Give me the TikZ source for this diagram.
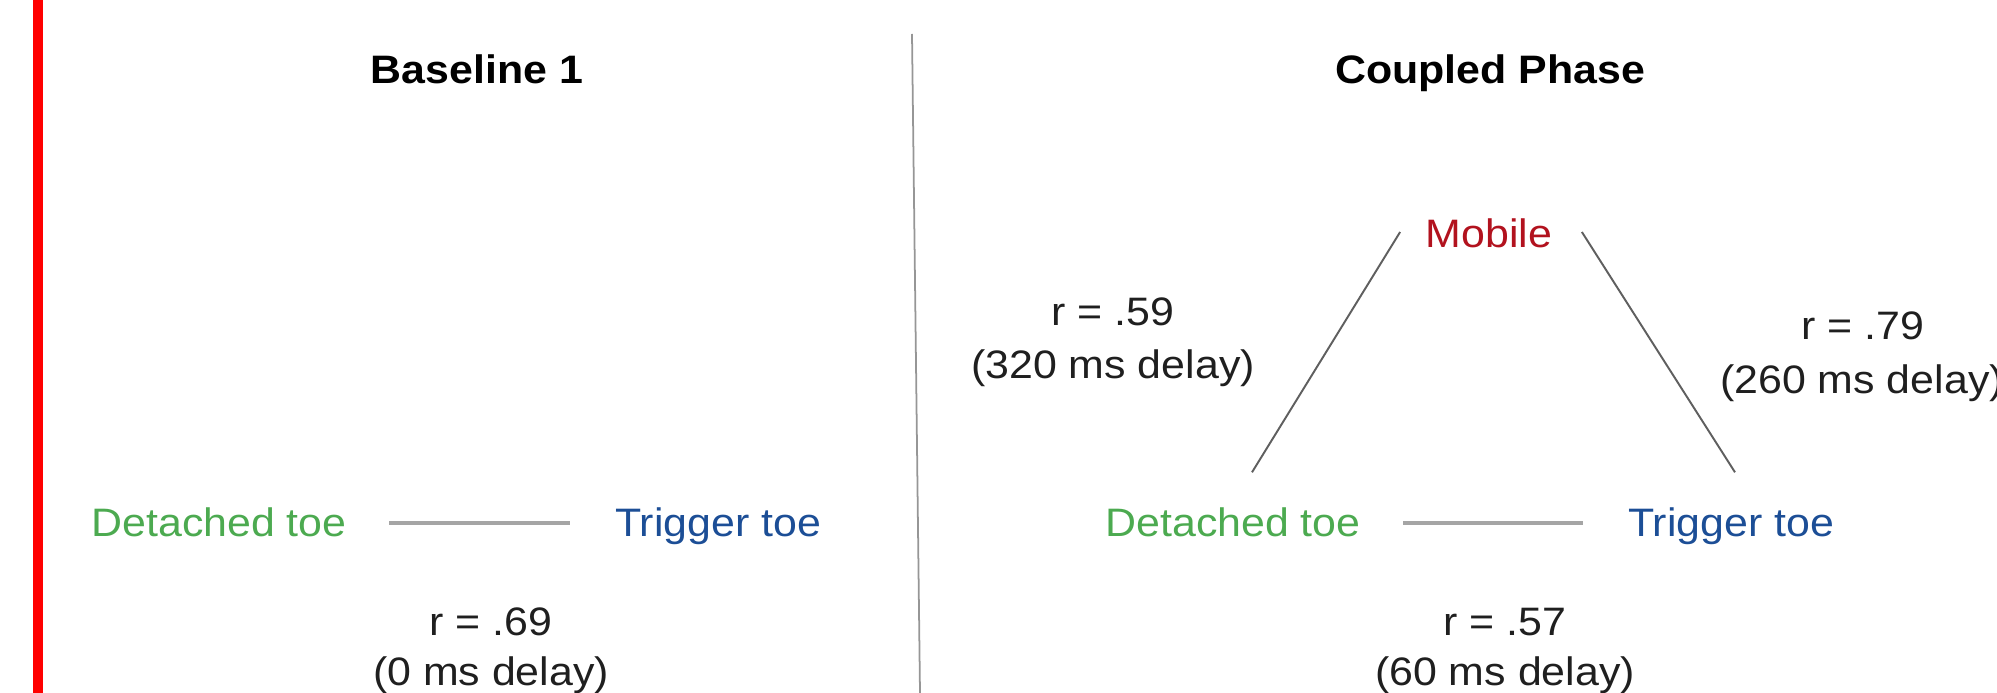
\documentclass[tikz,border=0pt]{standalone}
\usepackage{fontspec}
\setmainfont{Liberation Sans}[FakeStretch=1.08]
\usetikzlibrary{calc}

\definecolor{toegreen}{RGB}{76,170,80}
\definecolor{toeblue}{RGB}{28,78,150}
\definecolor{mobred}{RGB}{178,18,30}
\definecolor{linkgray}{RGB}{165,165,165}
\definecolor{diaggray}{RGB}{95,95,95}
\definecolor{rulegray}{RGB}{150,150,150}
\definecolor{sidered}{RGB}{255,0,0}

\tikzset{
  lbl/.style={inner sep=0pt, anchor=base, text height=0.32cm, text depth=0.06cm,
              font=\fontsize{11.3}{13.5}\selectfont, text=black!88},
  heading/.style={lbl, font=\fontsize{11.3}{13.5}\selectfont\bfseries, text=black},
  greentoe/.style={lbl, text=toegreen},
  bluetoe/.style={lbl, text=toeblue},
  mobile/.style={lbl, text=mobred},
  link/.style={draw=linkgray, line width=1.1pt, shorten <=0.42cm, shorten >=0.44cm},
  diag/.style={draw=diaggray, line width=0.55pt},
}

\begin{document}
\begin{tikzpicture}[x=1cm,y=1cm]
  \useasboundingbox (0,0) rectangle (19.97,-6.93);
  \clip (0,0) rectangle (19.97,-6.93);

  % red bar on the left edge
  \fill[sidered] (0.33,0) rectangle (0.43,-6.93);

  % divider between the two panels
  \draw[rulegray, line width=0.5pt] (9.12,-0.34) -- (9.20,-6.93);

  % panel headings
  \node[heading] (base1) at (4.77,-0.84) {Baseline 1};
  \node[heading] (coupled) at (14.90,-0.84) {Coupled Phase};

  % left panel: baseline
  \node[greentoe] (dtL) at (2.19,-5.36) {Detached toe};
  \node[bluetoe]  (ttL) at (7.18,-5.36) {Trigger toe};
  \draw[link] (dtL.east) -- (ttL.west);
  \node[lbl] (r69) at (4.91,-6.35) {r = .69};
  \node[lbl] (d0)  at (4.91,-6.85) {(0 ms delay)};

  % right panel: coupled phase
  \node[mobile]   (mob) at (14.89,-2.48) {Mobile};
  \node[greentoe] (dtR) at (12.33,-5.36) {Detached toe};
  \node[bluetoe]  (ttR) at (17.31,-5.36) {Trigger toe};
  \draw[link] (dtR.east) -- (ttR.west);
  \draw[diag] ([shift={(-0.25,0.03)}]mob.west) -- ([shift={(0.19,0.31)}]dtR.north);
  \draw[diag] ([shift={(0.29,0.03)}]mob.east) -- ([shift={(0.04,0.31)}]ttR.north);

  \node[lbl] (r59)  at (11.13,-3.26) {r = .59};
  \node[lbl] (d320) at (11.13,-3.79) {(320 ms delay)};
  \node[lbl] (r79)  at (18.63,-3.40) {r = .79};
  \node[lbl] (d260) at (18.62,-3.93) {(260 ms delay)};
  \node[lbl] (r57)  at (15.05,-6.35) {r = .57};
  \node[lbl] (d60)  at (15.05,-6.85) {(60 ms delay)};
\end{tikzpicture}
\end{document}
